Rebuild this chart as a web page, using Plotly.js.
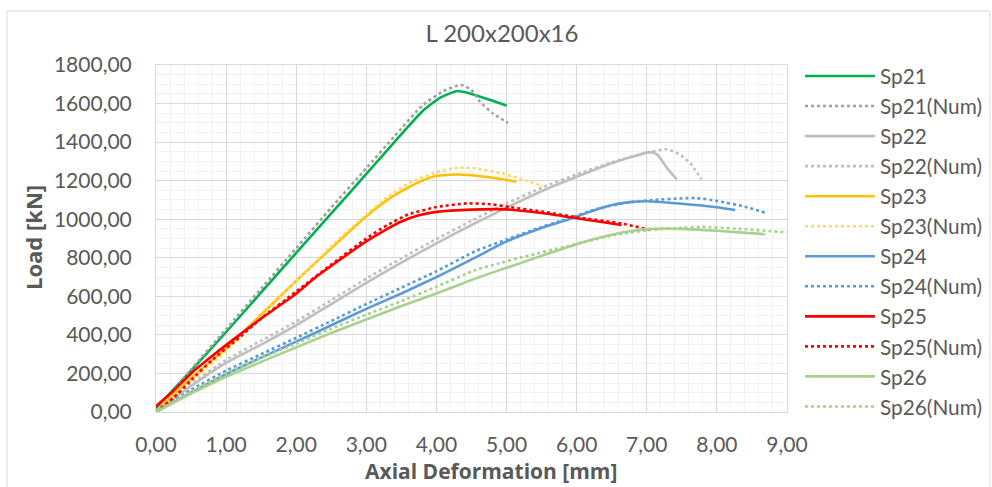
<!DOCTYPE html>
<html>
<head>
<meta charset="utf-8">
<script src="https://cdn.plot.ly/plotly-3.0.1.min.js"></script>
<style>html,body{margin:0;padding:0;background:#fff;}#chart{width:992px;height:487px;}</style>
</head>
<body>
<div id="chart"></div>
<script>
var names = ["Sp21","Sp21(Num)","Sp22","Sp22(Num)","Sp23","Sp23(Num)","Sp24","Sp24(Num)","Sp25","Sp25(Num)","Sp26","Sp26(Num)"];

var sp21_x = [0, 0.5, 1.0, 1.5, 2.0, 2.5, 3.0, 3.4, 3.8, 4.05, 4.3, 4.5, 4.8, 5.0];
var sp21_y = [20, 215, 415, 620, 825, 1030, 1235, 1400, 1560, 1630, 1665, 1650, 1615, 1590];
var sp21n_x = [0, 0.5, 1.0, 1.5, 2.0, 2.5, 3.0, 3.4, 3.8, 4.1, 4.35, 4.5, 4.62, 4.8, 5.02];
var sp21n_y = [0, 220, 430, 640, 850, 1060, 1265, 1430, 1590, 1665, 1697, 1670, 1610, 1550, 1500];

var sp22_x = [0, 0.5, 1.0, 1.5, 2.0, 2.5, 3.0, 3.5, 4.0, 4.5, 5.0, 5.5, 6.0, 6.5, 6.8, 7.05, 7.15, 7.3, 7.43];
var sp22_y = [0, 135, 255, 350, 450, 560, 670, 775, 875, 970, 1060, 1145, 1220, 1290, 1325, 1348, 1335, 1260, 1207];
var sp22n_x = [0, 0.5, 1.0, 1.5, 2.0, 2.5, 3.0, 3.5, 4.0, 4.5, 5.0, 5.5, 6.0, 6.5, 7.0, 7.28, 7.45, 7.62, 7.78];
var sp22n_y = [0, 145, 270, 370, 470, 580, 692, 797, 897, 992, 1082, 1163, 1233, 1295, 1345, 1363, 1340, 1291, 1207];

var sp23_x = [0, 0.5, 1.0, 1.5, 2.0, 2.5, 2.8, 3.0, 3.3, 3.6, 3.8, 4.0, 4.3, 4.7, 5.14];
var sp23_y = [0, 175, 330, 505, 680, 850, 950, 1015, 1100, 1165, 1200, 1225, 1232, 1220, 1195];
var sp23n_x = [0, 0.5, 1.0, 1.5, 2.0, 2.5, 2.8, 3.0, 3.3, 3.6, 4.0, 4.32, 4.6, 4.9, 5.2, 5.52];
var sp23n_y = [0, 160, 315, 495, 680, 860, 960, 1025, 1115, 1185, 1245, 1268, 1262, 1240, 1210, 1172];

var sp24_x = [0, 0.5, 1.0, 1.5, 2.0, 2.5, 3.0, 3.5, 4.0, 4.6, 5.0, 5.5, 5.86, 6.2, 6.52, 6.8, 7.0, 7.5, 8.0, 8.26];
var sp24_y = [0, 100, 196, 282, 365, 450, 535, 615, 700, 810, 885, 955, 996, 1040, 1075, 1090, 1093, 1080, 1062, 1048];
var sp24n_x = [0, 0.5, 1.0, 1.5, 2.0, 2.5, 3.0, 3.5, 4.0, 4.56, 5.0, 5.5, 5.76, 6.33, 6.8, 7.09, 7.5, 7.71, 8.0, 8.4, 8.69];
var sp24n_y = [0, 115, 215, 300, 385, 472, 560, 645, 730, 835, 895, 960, 990, 1058, 1090, 1100, 1108, 1110, 1095, 1065, 1034];

var sp25_x = [0, 0.25, 0.5, 0.8, 1.19, 1.5, 1.95, 2.3, 2.76, 3.0, 3.3, 3.5, 3.75, 4.0, 4.5, 5.0, 5.5, 6.0, 6.64];
var sp25_y = [30, 110, 200, 290, 400, 485, 600, 705, 825, 885, 950, 988, 1020, 1038, 1050, 1051, 1032, 1005, 970];
var sp25n_x = [0, 0.3, 0.5, 0.8, 1.2, 1.5, 2.0, 2.5, 3.0, 3.3, 3.6, 4.0, 4.43, 4.8, 5.05, 5.5, 6.0, 6.64, 7.05];
var sp25n_y = [0, 90, 165, 270, 390, 485, 625, 765, 900, 970, 1025, 1063, 1082, 1077, 1063, 1040, 1010, 978, 944];

var sp26_x = [0, 0.5, 1.0, 1.5, 2.0, 2.5, 3.0, 3.5, 4.0, 4.56, 4.9, 5.19, 5.5, 6.0, 6.33, 6.71, 7.05, 7.5, 8.0, 8.69];
var sp26_y = [0, 95, 183, 260, 335, 410, 480, 550, 615, 693, 736, 771, 810, 870, 905, 935, 950, 950, 940, 922];
var sp26n_x = [0, 0.5, 1.0, 1.5, 2.0, 2.5, 3.0, 3.5, 4.0, 4.56, 4.9, 5.19, 5.86, 6.57, 7.05, 7.5, 7.76, 8.3, 9.0];
var sp26n_y = [0, 105, 200, 280, 355, 432, 505, 575, 650, 737, 772, 800, 860, 920, 944, 955, 961, 950, 932];

var xs = [sp21_x, sp21n_x, sp22_x, sp22n_x, sp23_x, sp23n_x, sp24_x, sp24n_x, sp25_x, sp25n_x, sp26_x, sp26n_x];
var ys = [sp21_y, sp21n_y, sp22_y, sp22n_y, sp23_y, sp23n_y, sp24_y, sp24n_y, sp25_y, sp25n_y, sp26_y, sp26n_y];
var colors = ["#00B050","#A0A0A0","#BFBFBF","#BFBFBF","#FFC000","#FFD966","#5B9BD5","#5B9BD5","#FF0000","#FF0000","#A9D18E","#A9D18E"];
var dashes = ["solid","dot","solid","dot","solid","dot","solid","dot","solid","dot","solid","dot"];

var traces = names.map(function(n, i){
  return {
    x: xs[i], y: ys[i], name: n, type: 'scatter', mode: 'lines',
    line: {color: colors[i], width: 2.6, dash: dashes[i], shape: 'spline', smoothing: 0.5}
  };
});

var txt = '#595959';
var titleFont = '"Open Sans", Lato, sans-serif';
var layout = {
  width: 992, height: 487,
  paper_bgcolor: '#fff', plot_bgcolor: '#fff',
  separators: ',.',
  font: {family: 'Lato, "Open Sans", sans-serif', color: txt, size: 20},
  margin: {l: 156, r: 205, t: 65, b: 75},
  title: {text: 'L 200x200x16', font: {size: 24, color: txt}, x: 0.506, xanchor: 'center', y: 0.932, yanchor: 'middle'},
  xaxis: {
    range: [0, 9], dtick: 1, tick0: 0, tickformat: '.2f',
    gridcolor: '#D9D9D9', gridwidth: 1,
    minor: {dtick: 0.2, showgrid: true, gridcolor: '#F2F2F2', gridwidth: 1},
    showline: true, mirror: true, linecolor: '#D9D9D9', linewidth: 1,
    zeroline: false, ticks: '', ticklabelstandoff: 14,
    tickfont: {size: 21, color: txt}
  },
  yaxis: {
    range: [0, 1800], dtick: 200, tick0: 0, tickformat: '.2f',
    gridcolor: '#D9D9D9', gridwidth: 1,
    minor: {dtick: 50, showgrid: true, gridcolor: '#F2F2F2', gridwidth: 1},
    showline: true, mirror: true, linecolor: '#D9D9D9', linewidth: 1,
    zeroline: false, ticks: '', ticklabelstandoff: 19,
    tickfont: {size: 21, color: txt}
  },
  annotations: [
    {text: '<b>Axial Deformation [mm]</b>', xref: 'paper', yref: 'paper',
     x: (491-156)/631, y: (412-486)/347, xanchor: 'center', yanchor: 'bottom',
     showarrow: false, borderpad: 0, font: {family: titleFont, size: 21, color: txt}},
    {text: '<b>Load [kN]</b>', xref: 'paper', yref: 'paper', textangle: -90,
     x: (33-156)/631, y: (412-238)/347, xanchor: 'center', yanchor: 'middle',
     showarrow: false, font: {family: titleFont, size: 22, color: txt}}
  ],
  legend: {
    x: 800/992, xref: 'container', xanchor: 'left',
    y: 1 - 56/487, yref: 'container', yanchor: 'top',
    font: {size: 20.8, color: txt},
    bgcolor: 'rgba(0,0,0,0)', borderwidth: 0,
    itemwidth: 70, tracegroupgap: 0, maxheight: 420
  },
  shapes: [{
    type: 'rect', xref: 'paper', yref: 'paper',
    x0: (7-156)/631, x1: (990-156)/631,
    y0: (412-490)/347, y1: (412-11)/347,
    line: {color: '#D9D9D9', width: 1}, fillcolor: 'rgba(0,0,0,0)', layer: 'below'
  }],
  showlegend: true
};

Plotly.newPlot('chart', traces, layout, {displayModeBar: false, staticPlot: true});
</script>
</body>
</html>
